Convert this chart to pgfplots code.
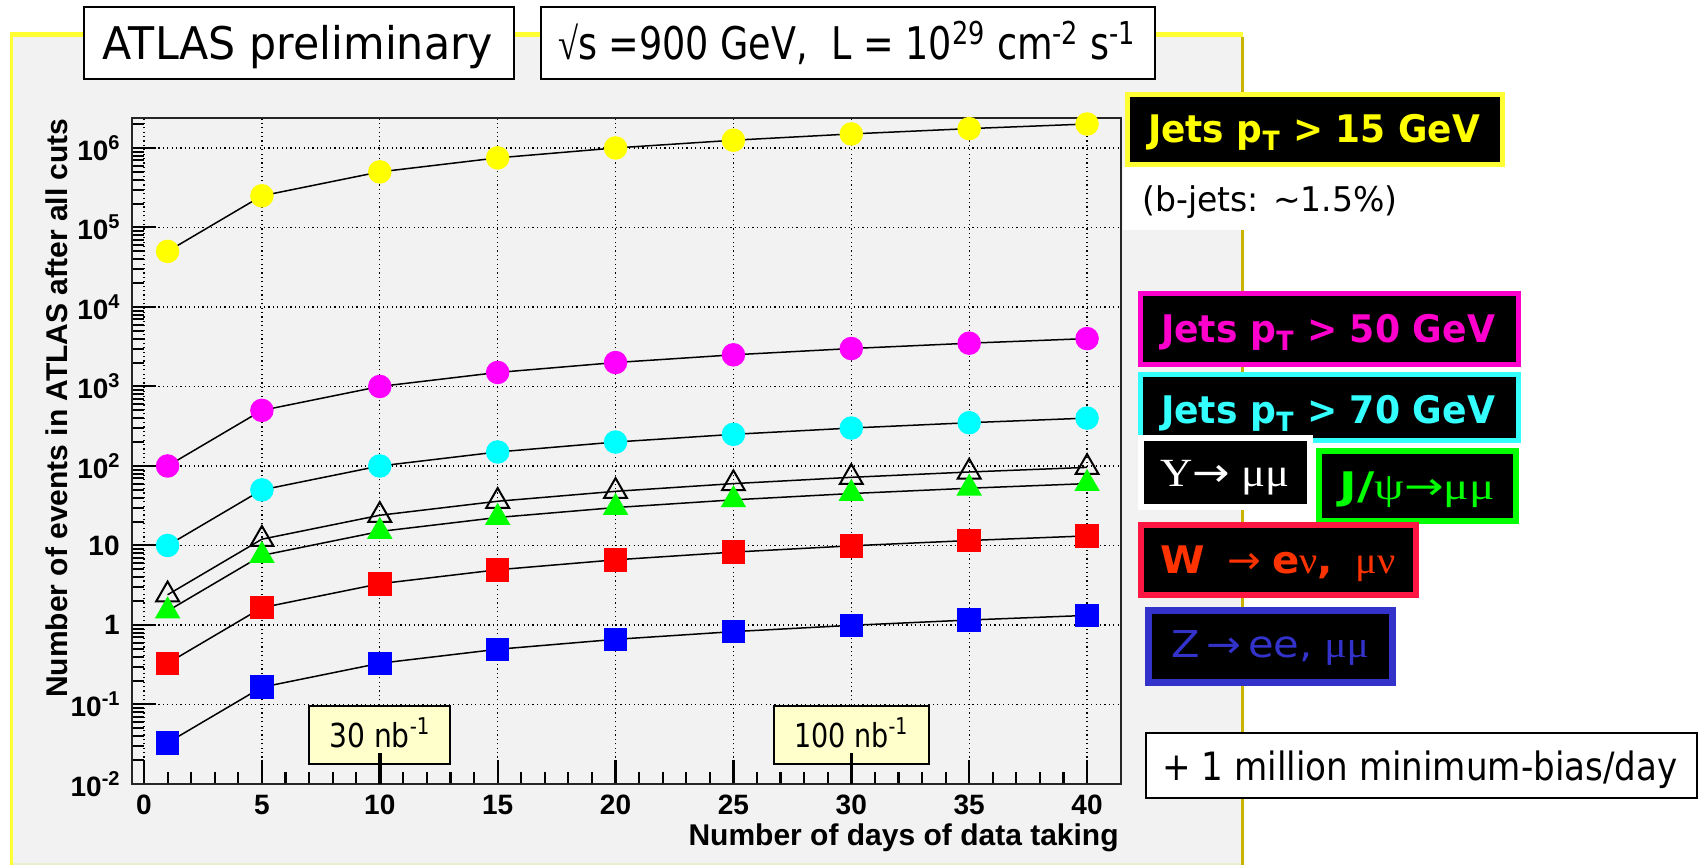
\documentclass[border=0pt]{standalone}
\usepackage{pgfplots}
\usepackage{pgfplotstable}
\pgfplotsset{compat=1.18}
\usepackage{graphicx}
\usepackage{fontspec}
\setmainfont{Liberation Sans}
\newfontfamily\hand{DejaVu Sans}
\newfontfamily\sym{Liberation Serif}

\definecolor{canvas}{HTML}{F2F2F2}
\definecolor{rootyellow}{HTML}{FFFF33}
\definecolor{rootolive}{HTML}{C8B400}
\definecolor{paleline}{HTML}{EEEED0}
\definecolor{jetyellow}{HTML}{FFFF00}
\definecolor{jetmagenta}{HTML}{FF00FF}
\definecolor{labmagenta}{HTML}{FF00CC}
\definecolor{jetcyan}{HTML}{00FFFF}
\definecolor{labcyan}{HTML}{33FFFF}
\definecolor{jpsigreen}{HTML}{00FF00}
\definecolor{wred}{HTML}{FF0000}
\definecolor{wborder}{HTML}{FF1744}
\definecolor{wtext}{HTML}{FF3300}
\definecolor{zblue}{HTML}{0000FF}
\definecolor{zlab}{HTML}{3333CC}
\definecolor{lumi}{HTML}{FFFFCC}

% stretch text horizontally to a given width, keeping its height
\newcommand\fitw[2]{\resizebox{#1}{\height}{#2}}
\newcommand\tsup[1]{\raisebox{5.5pt}{\fontsize{10}{10}\selectfont #1}}
\newcommand\arr{{\hand\mdseries →}}

% expected events per channel versus days of running
\pgfplotstableread{
day jets15  jets50 jets70 ups  jpsi w     z
1   5e4     100    10     2.4  1.5  0.33  0.033
5   2.5e5   500    50     12   7.5  1.65  0.165
10  5e5     1000   100    24   15   3.3   0.33
15  7.5e5   1500   150    36   22.5 4.95  0.495
20  1e6     2000   200    48   30   6.6   0.66
25  1.25e6  2500   250    60   37.5 8.25  0.825
30  1.5e6   3000   300    72   45   9.9   0.99
35  1.75e6  3500   350    84   52.5 11.55 1.155
40  2e6     4000   400    96   60   13.2  1.32
}\rates

\begin{document}
\begin{tikzpicture}
% canvas
\begin{scope}[x=0.5pt,y=-0.5pt]
  \useasboundingbox (0,0) rectangle (1702,865);
  \fill[white] (0,0) rectangle (1702,865);
  \fill[canvas] (11,33) rectangle (1243,865);
  \draw[line width=2.5pt, rootyellow] (10,34.5) -- (1243,34.5);
  \draw[line width=1.5pt, rootyellow] (11.5,33) -- (11.5,865);
  \draw[line width=1.5pt, rootolive] (1242,37) -- (1242,865);
  \draw[line width=1pt, paleline] (13,864) -- (1241,864);
\end{scope}

\begin{axis}[
  at={(66pt,-392pt)}, anchor=south west,
  scale only axis, width=494.5pt, height=333pt,
  ymode=log, clip=false,
  xmin=-0.51, xmax=41.44, ymin=1e-2, ymax=2.38e6,
  axis background/.style={fill=canvas},
  axis line style={line width=1pt, black!85},
  tick align=inside, xtick pos=bottom, ytick pos=left,
  xtick={0,5,10,15,20,25,30,35,40}, minor x tick num=4,
  ytick={1e-2,1e-1,1,10,1e2,1e3,1e4,1e5,1e6},
  minor ytick={2e-2,3e-2,4e-2,5e-2,6e-2,7e-2,8e-2,9e-2,
    2e-1,3e-1,4e-1,5e-1,6e-1,7e-1,8e-1,9e-1,
    2,3,4,5,6,7,8,9,20,30,40,50,60,70,80,90,
    200,300,400,500,600,700,800,900,
    2e3,3e3,4e3,5e3,6e3,7e3,8e3,9e3,
    2e4,3e4,4e4,5e4,6e4,7e4,8e4,9e4,
    2e5,3e5,4e5,5e5,6e5,7e5,8e5,9e5,2e6},
  yticklabels={10\tsup{-2},10\tsup{-1},1,10,10\tsup{2},10\tsup{3},10\tsup{4},10\tsup{5},10\tsup{6}},
  /pgf/number format/assume math mode=true,
  major tick length=12pt, minor tick length=6pt,
  xtick style={black, line width=1.1pt},
  ytick style={black, line width=1pt},
  grid=major,
  major grid style={black, line width=0.6pt, dash pattern=on 0.6pt off 1.6pt},
  ticklabel style={font=\fontsize{14}{14}\selectfont\bfseries},
  xticklabel style={inner sep=0pt, yshift=-5.5pt},
  yticklabel style={inner sep=0pt, xshift=-6pt},
  xlabel={Number of days of data taking},
  ylabel={Number of events in ATLAS after all cuts},
  label style={font=\fontsize{15}{15}\selectfont\bfseries, inner sep=0pt},
  xlabel style={at={(axis description cs:0.998,-0.0811)}, anchor=east},
  ylabel style={at={(axis description cs:-0.0758,1)}, anchor=east, rotate=0},
  every axis plot/.append style={black, line width=0.75pt},
]
\addplot[mark=*, mark size=5.5pt, mark options={draw=jetyellow, fill=jetyellow}] table[x=day,y=jets15]{\rates};
\addplot[mark=*, mark size=5.5pt, mark options={draw=jetmagenta, fill=jetmagenta}] table[x=day,y=jets50]{\rates};
\addplot[mark=*, mark size=5.5pt, mark options={draw=jetcyan, fill=jetcyan}] table[x=day,y=jets70]{\rates};
\addplot[mark=triangle, mark size=6.6pt, mark options={draw=black, line width=1pt}] table[x=day,y=ups]{\rates};
\addplot[mark=triangle*, mark size=6.6pt, mark options={draw=jpsigreen, fill=jpsigreen}] table[x=day,y=jpsi]{\rates};
\addplot[mark=square*, mark size=5.5pt, mark options={draw=wred, fill=wred}] table[x=day,y=w]{\rates};
\addplot[mark=square*, mark size=5.5pt, mark options={draw=zblue, fill=zblue}] table[x=day,y=z]{\rates};

% integrated luminosity reached after 10 and 30 days
\coordinate (lumiA) at (axis cs:10,0.01);
\coordinate (lumiB) at (axis cs:30,0.01);
\end{axis}

\node[draw=black, line width=1pt, fill=lumi, minimum width=70.5pt, minimum height=29pt, inner sep=0pt, anchor=south] at ([yshift=9.5pt]lumiA) {};
\node[anchor=base, inner sep=0pt] at ([yshift=18.5pt]lumiA)
  {\hand\fontsize{16.5}{20}\selectfont\fitw{50.5pt}{30 nb\textsuperscript{-1}}};
\fill[black] ([xshift=-0.9pt]lumiA) rectangle ([xshift=0.9pt,yshift=15.5pt]lumiA);
\node[draw=black, line width=1pt, fill=lumi, minimum width=77.5pt, minimum height=29pt, inner sep=0pt, anchor=south] at ([yshift=9.5pt]lumiB) {};
\node[anchor=base, inner sep=0pt] at ([yshift=18.5pt]lumiB)
  {\hand\fontsize{16.5}{20}\selectfont\fitw{57pt}{100 nb\textsuperscript{-1}}};
\fill[black] ([xshift=-0.9pt]lumiB) rectangle ([xshift=0.9pt,yshift=15.5pt]lumiB);

% titles and channel labels
\begin{scope}[x=0.5pt,y=-0.5pt]
  \filldraw[draw=black, fill=white, line width=1pt] (84,7) rectangle (514,79);
  \node[anchor=base, inner sep=0pt] at (298,60)
    {\hand\fontsize{22.5}{27}\selectfont\fitw{195pt}{ATLAS preliminary}};
  \filldraw[draw=black, fill=white, line width=1pt] (541,7) rectangle (1155,79);
  \node[anchor=base, inner sep=0pt] at (847,60)
    {\hand\fontsize{22.5}{27}\selectfont\fitw{289pt}{{\sym √}s =900 GeV,\ \ L = 10\textsuperscript{29} cm\textsuperscript{-2} s\textsuperscript{-1}}};

  % jets
  \filldraw[draw=rootyellow, fill=black, line width=2.5pt] (1127.5,94.5) rectangle (1502.5,164.5);
  \node[anchor=base, inner sep=0pt, text=jetyellow] at (1314,143)
    {\hand\bfseries\fontsize{19}{23}\selectfont\fitw{166pt}{Jets p\textsubscript{T} > 15 GeV}};
  \fill[white] (1123,167) rectangle (1246,230);
  \node[anchor=base, inner sep=0pt] at (1270,212)
    {\hand\fontsize{17}{20}\selectfont\fitw{127.5pt}{(b-jets: \textasciitilde1.5\%)}};
  \filldraw[draw=labmagenta, fill=black, line width=2.5pt] (1140.5,293.5) rectangle (1518.5,364.5);
  \node[anchor=base, inner sep=0pt, text=labmagenta] at (1328,343)
    {\hand\bfseries\fontsize{19}{23}\selectfont\fitw{167pt}{Jets p\textsubscript{T} > 50 GeV}};
  \filldraw[draw=labcyan, fill=black, line width=2.5pt] (1140.5,374.5) rectangle (1518.5,440.5);
  \node[anchor=base, inner sep=0pt, text=labcyan] at (1328,424)
    {\hand\bfseries\fontsize{19}{23}\selectfont\fitw{167pt}{Jets p\textsubscript{T} > 70 GeV}};

  % quarkonia
  \filldraw[draw=white, fill=black, line width=3pt] (1141,438) rectangle (1310,507);
  \node[anchor=base, inner sep=0pt, text=white] at (1225,487)
    {\sym\fontsize{20}{24}\selectfont\fitw{64.5pt}{Υ\arr\ μμ}};
  \filldraw[draw=jpsigreen, fill=black, line width=3pt] (1319,451) rectangle (1516,521);
  \node[anchor=base, inner sep=0pt, text=jpsigreen] at (1417,500)
    {\fontsize{19}{23}\selectfont\fitw{77.5pt}{{\hand\bfseries J/}{\sym ψ}\arr{\sym μμ}}};

  % vector bosons
  \filldraw[draw=wborder, fill=black, line width=3pt] (1141,525) rectangle (1416,595);
  \node[anchor=base, inner sep=0pt, text=wtext] at (1278,574)
    {\fontsize{19}{23}\selectfont\fitw{117.5pt}{{\hand\bfseries W}\ \ \arr\ {\hand\bfseries e}{\sym ν}{\hand\bfseries ,}\ \ {\sym μν}}};
  \filldraw[draw=zlab, fill=black, line width=3.5pt] (1148.5,610.5) rectangle (1392.5,682.5);
  \node[anchor=base, inner sep=0pt, text=zlab] at (1270,658)
    {\fontsize{18.5}{22}\selectfont\fitw{99pt}{{\hand Z}\,\arr\,{\hand ee,}\ {\sym μμ}}};

  % minimum bias
  \filldraw[draw=black, fill=white, line width=1pt] (1146,733) rectangle (1697,798);
  \node[anchor=base, inner sep=0pt] at (1420,780)
    {\hand\fontsize{19.5}{23}\selectfont\fitw{257.5pt}{+ 1 million minimum-bias/day}};
\end{scope}
\end{tikzpicture}
\end{document}
